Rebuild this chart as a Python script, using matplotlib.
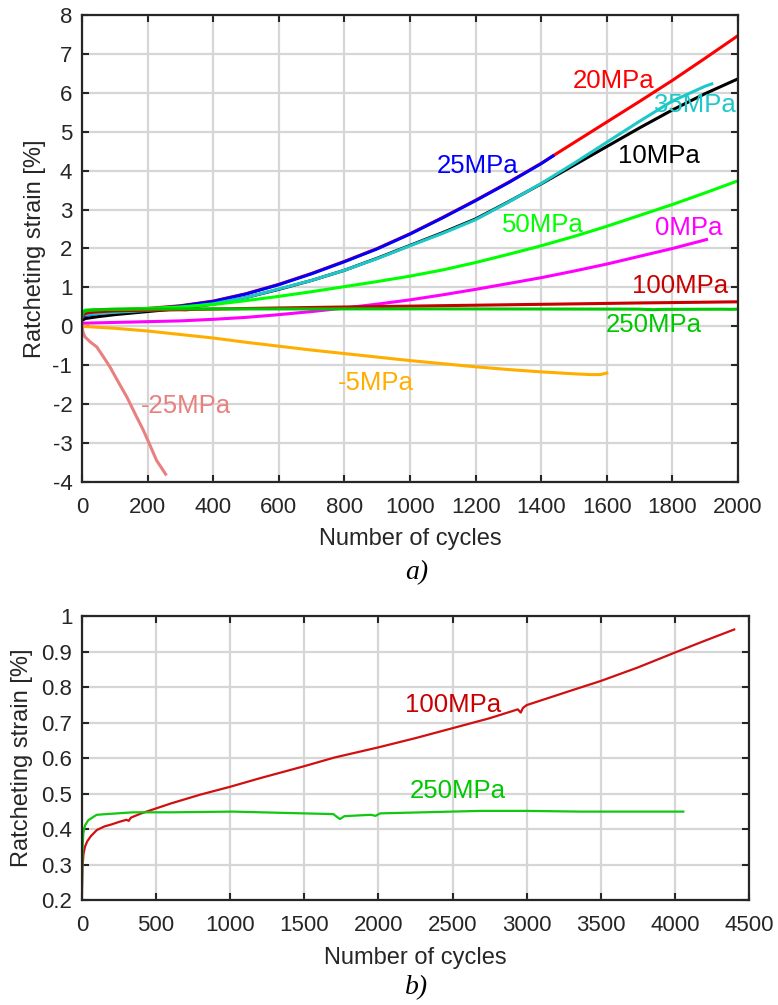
import matplotlib
matplotlib.use("Agg")
import matplotlib.pyplot as plt

plt.rcParams['font.family'] = ['Liberation Sans', 'DejaVu Sans']
plt.rcParams['axes.unicode_minus'] = False

# ---------------- data (a) ----------------
c20 = [0, 10, 50, 100, 200, 300, 400, 500, 600, 700, 800, 900, 1000, 1100, 1200, 1300, 1400, 1500, 1600, 1700, 1800, 1900, 2000]
s20 = [0.34, 0.36, 0.39, 0.42, 0.46, 0.53, 0.65, 0.84, 1.08, 1.36, 1.67, 2.0, 2.38, 2.8, 3.24, 3.7, 4.19, 4.72, 5.25, 5.78, 6.32, 6.89, 7.47]

c25 = [0, 10, 50, 100, 200, 300, 400, 500, 600, 700, 800, 900, 1000, 1100, 1200, 1300, 1400, 1436]
s25 = [0.24, 0.28, 0.33, 0.37, 0.44, 0.52, 0.64, 0.83, 1.07, 1.35, 1.66, 1.99, 2.37, 2.79, 3.23, 3.69, 4.18, 4.38]

c10 = [0, 10, 50, 100, 200, 300, 400, 500, 600, 700, 800, 900, 1000, 1100, 1200, 1300, 1400, 1500, 1600, 1700, 1800, 1900, 2000]
s10 = [0.15, 0.2, 0.25, 0.3, 0.38, 0.46, 0.57, 0.74, 0.95, 1.18, 1.44, 1.75, 2.08, 2.41, 2.76, 3.2, 3.66, 4.14, 4.62, 5.1, 5.56, 5.98, 6.36]

c35 = [0, 10, 50, 100, 200, 300, 400, 500, 600, 700, 800, 900, 1000, 1100, 1200, 1300, 1400, 1500, 1600, 1700, 1800, 1900, 1920]
s35 = [0.28, 0.3, 0.33, 0.36, 0.41, 0.48, 0.58, 0.74, 0.96, 1.18, 1.44, 1.74, 2.07, 2.39, 2.74, 3.19, 3.67, 4.19, 4.73, 5.27, 5.79, 6.17, 6.23]

c50 = [0, 10, 100, 200, 300, 400, 500, 600, 700, 800, 900, 1000, 1100, 1200, 1300, 1400, 1500, 1600, 1700, 1800, 1900, 2000]
s50 = [0.35, 0.42, 0.44, 0.46, 0.5, 0.56, 0.66, 0.77, 0.89, 1.02, 1.15, 1.29, 1.45, 1.64, 1.85, 2.07, 2.31, 2.57, 2.85, 3.13, 3.43, 3.74]

c0 = [0, 100, 200, 300, 400, 500, 600, 700, 800, 900, 1000, 1100, 1200, 1300, 1400, 1500, 1600, 1700, 1800, 1904]
s0 = [0.08, 0.1, 0.12, 0.14, 0.18, 0.23, 0.3, 0.38, 0.47, 0.57, 0.68, 0.81, 0.95, 1.1, 1.25, 1.42, 1.6, 1.8, 2.0, 2.23]

cm5 = [0, 100, 200, 300, 400, 500, 600, 700, 800, 900, 1000, 1100, 1200, 1300, 1400, 1500, 1550, 1580, 1600]
sm5 = [0.0, -0.05, -0.12, -0.21, -0.3, -0.41, -0.51, -0.61, -0.7, -0.79, -0.88, -0.96, -1.04, -1.11, -1.17, -1.22, -1.24, -1.24, -1.2]

cm25 = [0, 3, 9, 25, 45, 65, 85, 110, 137, 162, 187, 207, 227, 255]
sm25 = [0.0, -0.15, -0.27, -0.4, -0.53, -0.78, -1.04, -1.42, -1.82, -2.25, -2.67, -3.05, -3.44, -3.8]

# ---------------- data (b), also shown in (a) ----------------
c100 = [0, 3, 10, 20, 35, 60, 100, 150, 200, 250, 300, 315, 330, 400, 500, 600, 800, 1000, 1200, 1500, 1700,
        2000, 2250, 2500, 2750, 2940, 2960, 2975, 3000, 3300, 3500, 3750, 4000, 4200, 4400]
s100 = [0.22, 0.29, 0.33, 0.35, 0.365, 0.38, 0.397, 0.407, 0.413, 0.42, 0.426, 0.423, 0.432, 0.444, 0.458, 0.472,
        0.497, 0.519, 0.543, 0.577, 0.601, 0.63, 0.656, 0.684, 0.712, 0.737, 0.728, 0.741, 0.749, 0.79, 0.817,
        0.855, 0.897, 0.93, 0.962]

c250 = [0, 3, 9, 20, 43, 99, 200, 345, 600, 1020, 1400, 1695, 1740, 1770, 1808, 1950, 1980, 2011, 2300, 2686,
        3000, 3360, 3700, 4057]
s250 = [0.24, 0.34, 0.388, 0.41, 0.425, 0.44, 0.443, 0.447, 0.447, 0.449, 0.445, 0.442, 0.428, 0.436, 0.437,
        0.44, 0.437, 0.444, 0.447, 0.451, 0.451, 0.449, 0.449, 0.449]

xticks_a = list(range(0, 2001, 200))
yticks_a = list(range(-4, 9))
xticks_b = list(range(0, 4501, 500))
yticks_b = [0.2, 0.3, 0.4, 0.5, 0.6, 0.7, 0.8, 0.9, 1]
yticklabels_b = ['0.2', '0.3', '0.4', '0.5', '0.6', '0.7', '0.8', '0.9', '1']

labels_a = [
    ('20MPa', 1622, 6.12, '#ff0000'),
    ('35MPa', 1869, 5.51, '#1fc8c8'),
    ('10MPa', 1759, 4.20, '#000000'),
    ('25MPa', 1207, 3.94, '#0000ff'),
    ('50MPa', 1405, 2.42, '#00ff00'),
    ('0MPa', 1851, 2.35, '#ff00ff'),
    ('100MPa', 1823, 0.86, '#c80000'),
    ('250MPa', 1744, -0.14, '#00c800'),
    ('-5MPa', 896, -1.63, '#ffae00'),
    ('-25MPa', 317, -2.23, '#e88080'),
]
labels_b = [
    ('100MPa', 2503, 0.7296, '#c80000'),
    ('250MPa', 2537, 0.487, '#00c800'),
]

W, H = 778, 1005
fig = plt.figure(figsize=(W / 100, H / 100), dpi=100)

def frac(l, t, r, b):
    return [l / W, 1 - b / H, (r - l) / W, (b - t) / H]

ax1 = fig.add_axes(frac(82, 15, 738, 482))
ax2 = fig.add_axes(frac(82, 616, 749, 900))

def style(ax):
    for sp in ax.spines.values():
        sp.set_color('#262626')
        sp.set_linewidth(1.6)
    ax.grid(True, color='#d6d6d6', linewidth=1.6)
    ax.set_axisbelow(True)
    ax.tick_params(direction='in', top=True, right=True, length=5, width=1.5,
                   color='#262626', labelcolor='#262626', labelsize=16)
    ax.tick_params(axis='x', pad=11)
    ax.tick_params(axis='y', pad=7)

# ---- (a) ----
lw = 2.2
ax1.plot(c20, s20, color='#ff0000', lw=lw)
ax1.plot(c10, s10, color='#000000', lw=lw)
ax1.plot(c25, s25, color='#0000ff', lw=lw)
ax1.plot(c35, s35, color='#1fc8c8', lw=lw)
ax1.plot(c0, s0, color='#ff00ff', lw=lw)
ax1.plot(c100, s100, color='#c80000', lw=lw)
ax1.plot(c50, s50, color='#00ff00', lw=lw)
ax1.plot(c250, s250, color='#00c800', lw=lw)
ax1.plot(cm5, sm5, color='#ffae00', lw=lw)
ax1.plot(cm25, sm25, color='#e88080', lw=lw)
for txt, x, y, col in labels_a:
    ax1.text(x, y, txt, color=col, fontsize=18.5, ha='center', va='baseline')
ax1.set_xlim(0, 2000)
ax1.set_ylim(-4, 8)
ax1.set_xticks(xticks_a)
ax1.set_yticks(yticks_a)
style(ax1)
ax1.set_xlabel('Number of cycles', fontsize=17, color='#262626')
ax1.set_ylabel('Ratcheting strain [%]', fontsize=17, color='#262626')
ax1.xaxis.set_label_coords(0.5, -0.098)
ax1.yaxis.set_label_coords(-0.055, 0.5)

# ---- (b) ----
ax2.plot(c100, s100, color='#d01010', lw=1.6)
ax2.plot(c250, s250, color='#10c810', lw=1.6)
for txt, x, y, col in labels_b:
    ax2.text(x, y, txt, color=col, fontsize=18.5, ha='center', va='baseline')
ax2.set_xlim(0, 4500)
ax2.set_ylim(0.2, 1.0)
ax2.set_xticks(xticks_b)
ax2.set_yticks(yticks_b)
ax2.set_yticklabels(yticklabels_b)
style(ax2)
ax2.set_xlabel('Number of cycles', fontsize=17, color='#262626')
ax2.set_ylabel('Ratcheting strain [%]', fontsize=17, color='#262626')
ax2.xaxis.set_label_coords(0.5, -0.165)
ax2.yaxis.set_label_coords(-0.074, 0.5)

fig.text(417 / W, 1 - 573 / H, 'a)', family='Liberation Serif', style='italic', fontsize=20,
         ha='center', va='center')
fig.text(417 / W, 1 - 988 / H, 'b)', family='Liberation Serif', style='italic', fontsize=20,
         ha='center', va='center')

fig.savefig('out.png', dpi=100)
